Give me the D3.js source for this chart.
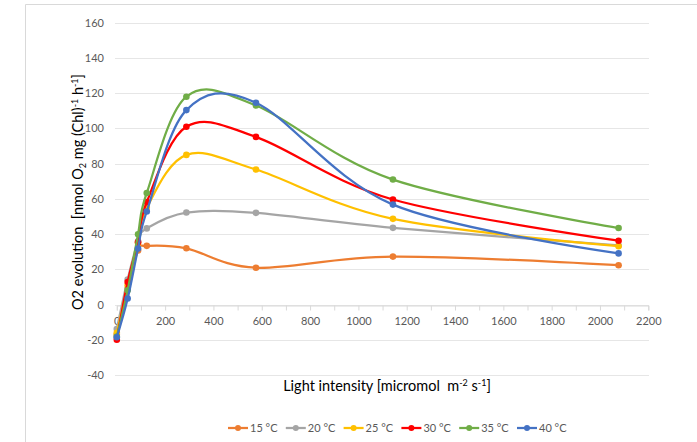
<!DOCTYPE html>
<html>
<head>
<meta charset="utf-8">
<script src="https://cdn.jsdelivr.net/npm/d3@7"></script>
<style>
  body { margin: 0; background: #fff; }
  text { font-family: Lato, "Open Sans", sans-serif; white-space: pre; }
</style>
</head>
<body>
<div id="chart"></div>
<script>
const width = 697;
const height = 442;

// light intensity (micromol m-2 s-1)
const lightVals = [0, 45, 88, 124, 288, 576, 1143, 2077];

const seriesNames = ["15 °C", "20 °C", "25 °C", "30 °C", "35 °C", "40 °C"];
const seriesColors = ["#ED7D31", "#A5A5A5", "#FFC000", "#FF0000", "#70AD47", "#4472C4"];

const t15 = [-17, 9, 30.8, 33.4, 32, 21, 27.3, 22.4];
const t20 = [-13.8, 14.3, 36, 43.3, 52.3, 52.1, 43.6, 33.6];
const t25 = [-16, 11, 35, 55, 85, 76.7, 48.7, 33.2];
const t30 = [-19.9, 12.9, 35.5, 58.2, 101, 95.2, 59.7, 36.3];
const t35 = [-18, 8.2, 40, 63.4, 118, 113, 71, 43.5];
const t40 = [-18.5, 3.5, 31.9, 52.9, 110.4, 114.6, 56.8, 29.1];
const allSeries = [t15, t20, t25, t30, t35, t40];

const yTicks = [-40, -20, 0, 20, 40, 60, 80, 100, 120, 140, 160];

const svg = d3.select("#chart")
  .append("svg")
  .attr("width", width)
  .attr("height", height);

// chart area border
svg.append("path")
  .attr("d", "M25.5," + height + "V4.5H" + width)
  .attr("fill", "none")
  .attr("stroke", "#d9d9d9");

const x = d3.scaleLinear().domain([0, 2200]).range([116.8, 648.3]);
const y = d3.scaleLinear().domain([-40, 160]).range([375.2, 22.7]);

// gridlines
svg.append("g")
  .selectAll("line")
  .data(yTicks)
  .enter()
  .append("line")
  .attr("x1", 115)
  .attr("x2", 649)
  .attr("y1", d => Math.round(y(d)) + 0.5)
  .attr("y2", d => Math.round(y(d)) + 0.5)
  .attr("stroke", "#e6e6e6");

// y tick labels
svg.append("g")
  .selectAll("text")
  .data(yTicks)
  .enter()
  .append("text")
  .attr("x", 104)
  .attr("y", d => y(d))
  .attr("dy", "0.35em")
  .attr("text-anchor", "end")
  .attr("font-size", "11px")
  .attr("fill", "#595959")
  .text(d => d);

// x axis on y = 0, small ticks every 100
const xAxis = d3.axisBottom(x)
  .tickValues(d3.range(0, 2201, 100))
  .tickSize(5)
  .tickFormat(d => (d % 200 === 0 ? d : ""));

const gx = svg.append("g")
  .attr("transform", "translate(0," + (Math.round(y(0)) + 0.5) + ")")
  .call(xAxis);
gx.select(".domain").attr("stroke", "#d9d9d9");
gx.selectAll(".tick line").attr("stroke", "#d9d9d9");
gx.selectAll(".tick text")
  .attr("font-size", "11px")
  .attr("font-family", "Lato, 'Open Sans', sans-serif")
  .attr("fill", "#595959")
  .attr("y", 12);

// series, smoothed like the spreadsheet
const line = d3.line()
  .x((d, i) => x(lightVals[i]))
  .y(d => y(d))
  .curve(d3.curveCatmullRom.alpha(0));

allSeries.forEach((vals, s) => {
  const g = svg.append("g");
  g.append("path")
    .datum(vals)
    .attr("d", line)
    .attr("fill", "none")
    .attr("stroke", seriesColors[s])
    .attr("stroke-width", 2.25)
    .attr("stroke-linejoin", "round");
  g.selectAll("circle")
    .data(vals)
    .enter()
    .append("circle")
    .attr("cx", (d, i) => x(lightVals[i]))
    .attr("cy", d => y(d))
    .attr("r", 3.3)
    .attr("fill", seriesColors[s]);
});

// axis titles
const yTitle = svg.append("text")
  .attr("transform", "translate(83,192) rotate(-90)")
  .attr("text-anchor", "middle")
  .attr("font-size", "14.5px")
  .attr("fill", "#000");
yTitle.append("tspan").text("O2 evolution  [nmol O");
yTitle.append("tspan").attr("font-size", "9px").attr("dy", 3).text("2");
yTitle.append("tspan").attr("dy", -3).text(" mg (Chl)");
yTitle.append("tspan").attr("font-size", "9px").attr("dy", -5).text("-1");
yTitle.append("tspan").attr("dy", 5).text(" h");
yTitle.append("tspan").attr("font-size", "9px").attr("dy", -5).text("-1");
yTitle.append("tspan").attr("dy", 5).text("]");

const xTitle = svg.append("text")
  .attr("x", 387)
  .attr("y", 391)
  .attr("text-anchor", "middle")
  .attr("font-size", "14.5px")
  .attr("fill", "#000");
xTitle.append("tspan").text("Light intensity [micromol  m");
xTitle.append("tspan").attr("font-size", "9px").attr("dy", -5).text("-2");
xTitle.append("tspan").attr("dy", 5).text(" s");
xTitle.append("tspan").attr("font-size", "9px").attr("dy", -5).text("-1");
xTitle.append("tspan").attr("dy", 5).text("]");

// legend
const legend = svg.append("g")
  .selectAll("g")
  .data(seriesNames)
  .enter()
  .append("g")
  .attr("transform", (d, i) => "translate(" + (228 + i * 57.8) + ",428)");
legend.append("line")
  .attr("x1", 0).attr("x2", 20)
  .attr("stroke", (d, i) => seriesColors[i])
  .attr("stroke-width", 2.25);
legend.append("circle")
  .attr("cx", 10).attr("r", 3)
  .attr("fill", (d, i) => seriesColors[i]);
legend.append("text")
  .attr("x", 22)
  .attr("dy", "0.35em")
  .attr("font-size", "11px")
  .attr("fill", "#595959")
  .text(d => d);
</script>
</body>
</html>
